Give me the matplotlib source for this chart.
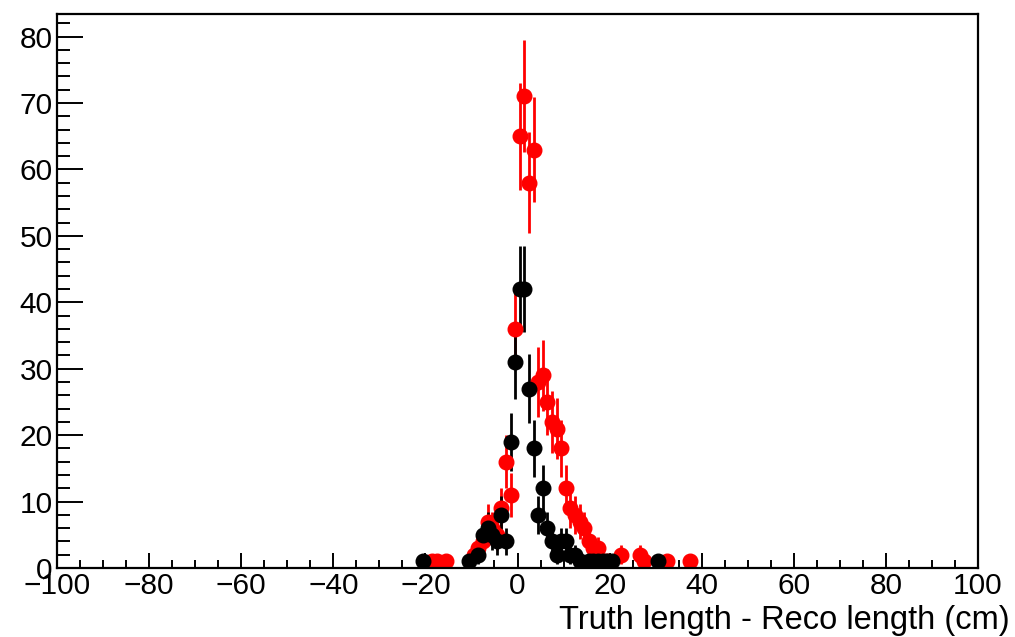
import numpy as np
import matplotlib
matplotlib.use("Agg")
import matplotlib.pyplot as plt
from matplotlib.ticker import MultipleLocator

# Histogram bin centres (cm) and counts
red_x = [-18.5, -17.5, -15.5, -9.5, -8.5, -7.5, -6.5, -5.5, -4.5, -3.5, -2.5, -1.5, -0.5,
         0.5, 1.5, 2.5, 3.5, 4.5, 5.5, 6.5, 7.5, 8.5, 9.5, 10.5, 11.5, 12.5, 13.5, 14.5,
         15.5, 16.5, 17.5, 18.5, 19.5, 22.5, 26.5, 27.5, 32.5, 37.5]
red_y = [1, 1, 1, 2, 3, 4, 7, 6, 5, 9, 16, 11, 36,
         65, 71, 58, 63, 28, 29, 25, 22, 21, 18, 12, 9, 8, 7, 6,
         4, 3, 3, 1, 1, 2, 2, 1, 1, 1]

black_x = [-20.5, -10.5, -8.5, -7.5, -6.5, -5.5, -4.5, -3.5, -2.5, -1.5, -0.5,
           0.5, 1.5, 2.5, 3.5, 4.5, 5.5, 6.5, 7.5, 8.5, 9.5, 10.5, 11.5, 12.5,
           13.5, 15.5, 16.5, 17.5, 18.5, 19.5, 20.5, 30.5]
black_y = [1, 1, 2, 5, 6, 5, 4, 8, 4, 19, 31,
           42, 42, 27, 18, 8, 12, 6, 4, 2, 4, 4, 2, 2,
           1, 1, 1, 1, 1, 1, 1, 1]

x_label = "Truth length - Reco length (cm)"

plt.rcParams['font.family'] = ['Liberation Sans', 'DejaVu Sans']

fig = plt.figure(figsize=(10.15, 6.37), dpi=100)
ax = fig.add_axes([57/1015, (637-568)/637, (978-57)/1015, (568-14)/637])

for xs, ys, col in [(red_x, red_y, 'red'), (black_x, black_y, 'black')]:
    ys = np.array(ys, dtype=float)
    ax.errorbar(xs, ys, yerr=np.sqrt(ys), fmt='o', color=col, ms=10.5,
                mec=col, elinewidth=2.0, capsize=0)

ax.set_xlim(-100, 100)
ax.set_ylim(0, 83.4)
ax.xaxis.set_major_locator(MultipleLocator(20))
ax.xaxis.set_minor_locator(MultipleLocator(5))
ax.yaxis.set_major_locator(MultipleLocator(10))
ax.yaxis.set_minor_locator(MultipleLocator(2))

ax.tick_params(axis='both', which='both', direction='in', width=1.4,
               top=False, right=False, labelsize=21.5)
ax.tick_params(axis='y', which='major', length=19, pad=3)
ax.tick_params(axis='y', which='minor', length=9.5)
ax.tick_params(axis='x', which='major', length=11, pad=3)
ax.tick_params(axis='x', which='minor', length=5.5)

for s in ax.spines.values():
    s.set_linewidth(1.6)

fig.text(1010/1015, 1 - 629/637, x_label, fontsize=23.5, ha='right', va='baseline')

fig.savefig("out.png", dpi=100)
